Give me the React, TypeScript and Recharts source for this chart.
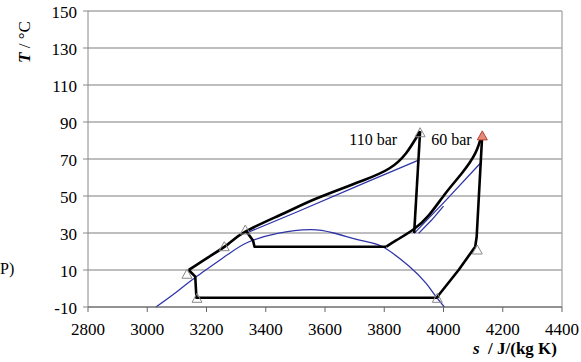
import {
  ComposedChart,
  Line,
  Scatter,
  XAxis,
  YAxis,
  CartesianGrid,
  ReferenceLine,
  ReferenceDot,
} from 'recharts';

// entropy s (J/(kg K)) and temperature T (°C)
const domeS = [3029, 3100, 3162, 3273, 3340, 3440, 3551, 3629, 3740, 3801, 3884, 3940, 3973, 4003];
const domeT = [-10, -1.7, 6, 18.5, 25, 29.8, 31.8, 30, 25.3, 22, 12, 3, -4, -10];

const iso110S = [3335, 3507, 3740, 3918];
const iso110T = [30, 41.5, 57.5, 69.5];
const iso60S = [3901, 4007, 4129];
const iso60T = [29.8, 47.5, 68.5];
const iso60bS = [3916, 3960, 4000];
const iso60bT = [29.8, 37, 44.5];

const gc110S = [3140, 3207, 3273, 3334, 3462, 3573, 3730, 3818, 3873, 3921];
const gc110T = [10, 17, 24, 31, 40.7, 48.8, 58.5, 65, 73, 85];
const drop110S = [3921, 3901];
const drop110T = [85, 30];
const cd60S = [3807, 3840, 3896, 3951, 4007, 4062, 4107, 4131];
const cd60T = [22.6, 26, 31.6, 39.7, 51.5, 62.3, 73, 84];
const drop60S = [4131, 4112, 4107];
const drop60T = [84, 28, 22.6];
const compS = [4107, 4051, 3984, 3979];
const compT = [22.6, 10, -3.5, -5];
const evapS = [3979, 3166, 3162, 3140];
const evapT = [-5, -5, 6.4, 10];
const liq60S = [3807, 3362, 3357, 3334];
const liq60T = [22.6, 22.6, 26, 31];

const markS = [3134, 3168, 3260, 3331, 3921, 4114, 3979];
const markT = [7.7, -5.3, 22.6, 31.6, 84.2, 20.8, -5.3];
const redS = [4131];
const redT = [82.5];

const xTicks = [2800, 3000, 3200, 3400, 3600, 3800, 4000, 4200, 4400];
const yTicks = [-10, 10, 30, 50, 70, 90, 110, 130, 150];

const pts = (s: number[], t: number[]) => s.map((x, i) => ({ x, y: t[i] }));

const serif = "'Liberation Serif', 'Times New Roman', serif";

const XTick = (props: any) => (
  <text x={props.x} y={props.y + 21} textAnchor="middle" style={{ fontFamily: serif, fontSize: 17 }} fill="#000">
    {props.payload.value}
  </text>
);

const YTick = (props: any) => (
  <text x={77} y={props.y + 7} textAnchor="end" style={{ fontFamily: serif, fontSize: 17 }} fill="#000">
    {props.payload.value}
  </text>
);

const Tri = (stroke: string, fill: string) => (props: any) => {
  const { cx, cy } = props;
  return (
    <polygon
      points={`${cx},${cy - 5} ${cx - 5},${cy + 4} ${cx + 5},${cy + 4}`}
      stroke={stroke}
      strokeWidth={1}
      fill={fill}
    />
  );
};

const Note = (text: string) => (props: any) => (
  <text x={props.cx} y={props.cy} textAnchor="middle" dominantBaseline="central" style={{ fontFamily: serif, fontSize: 16 }} fill="#000">
    {text}
  </text>
);

export default function App() {
  const black = [
    pts(gc110S, gc110T),
    pts(drop110S, drop110T),
    pts(cd60S, cd60T),
    pts(drop60S, drop60T),
    pts(compS, compT),
    pts(evapS, evapT),
    pts(liq60S, liq60T),
  ];
  const blue = [pts(domeS, domeT), pts(iso110S, iso110T), pts(iso60S, iso60T), pts(iso60bS, iso60bT)];

  return (
    <div style={{ position: 'absolute', left: 0, top: 0, width: 581, height: 362, background: '#fff', fontFamily: serif }}>
      <ComposedChart
        width={581}
        height={362}
        margin={{ top: 11, right: 19, left: 8, bottom: 25 }}
        style={{ fontFamily: serif }}
      >
        <CartesianGrid vertical={false} stroke="#a8a8a8" strokeWidth={1.3} />
        <XAxis
          type="number"
          dataKey="x"
          domain={[2800, 4400]}
          ticks={xTicks}
          height={30}
          stroke="#666"
          tickSize={5}
          tick={XTick}
        />
        <YAxis
          type="number"
          dataKey="y"
          domain={[-10, 150]}
          ticks={yTicks}
          width={80}
          stroke="#888"
          tickSize={5}
          tick={YTick}
        />
        <ReferenceLine x={4400} stroke="#a8a8a8" strokeWidth={1.3} />
        {blue.map((d, i) => (
          <Line
            key={'b' + i}
            data={d}
            dataKey="y"
            type={i === 0 ? 'natural' : 'linear'}
            stroke="#2f35a8"
            strokeWidth={1.3}
            dot={false}
            isAnimationActive={false}
          />
        ))}
        {black.map((d, i) => (
          <Line
            key={'k' + i}
            data={d}
            dataKey="y"
            type={i === 0 || i === 2 ? 'natural' : 'linear'}
            stroke="#000"
            strokeWidth={2.6}
            strokeLinejoin="round"
            dot={false}
            isAnimationActive={false}
          />
        ))}
        <Scatter data={pts(markS, markT)} dataKey="y" shape={Tri('#8a8a8a', 'none')} isAnimationActive={false} />
        <Scatter data={pts(redS, redT)} dataKey="y" shape={Tri('#b8402f', '#e48a78')} isAnimationActive={false} />
        <ReferenceDot x={3763} y={80.3} shape={Note('110 bar')} />
        <ReferenceDot x={4027} y={80.3} shape={Note('60 bar')} />
      </ComposedChart>
      <div
        style={{
          position: 'absolute',
          left: 25,
          top: 42,
          transform: 'translate(-50%, -50%) rotate(-90deg)',
          whiteSpace: 'nowrap',
          fontSize: 17,
        }}
      >
        <b><i>T</i></b> / °C
      </div>
      <div style={{ position: 'absolute', left: 0, top: 260, fontSize: 16 }}>P)</div>
      <div style={{ position: 'absolute', right: 24, top: 339, fontSize: 17, fontWeight: 'bold', whiteSpace: 'nowrap' }}>
        <i>s</i>&nbsp; / J/(kg K)
      </div>
    </div>
  );
}
